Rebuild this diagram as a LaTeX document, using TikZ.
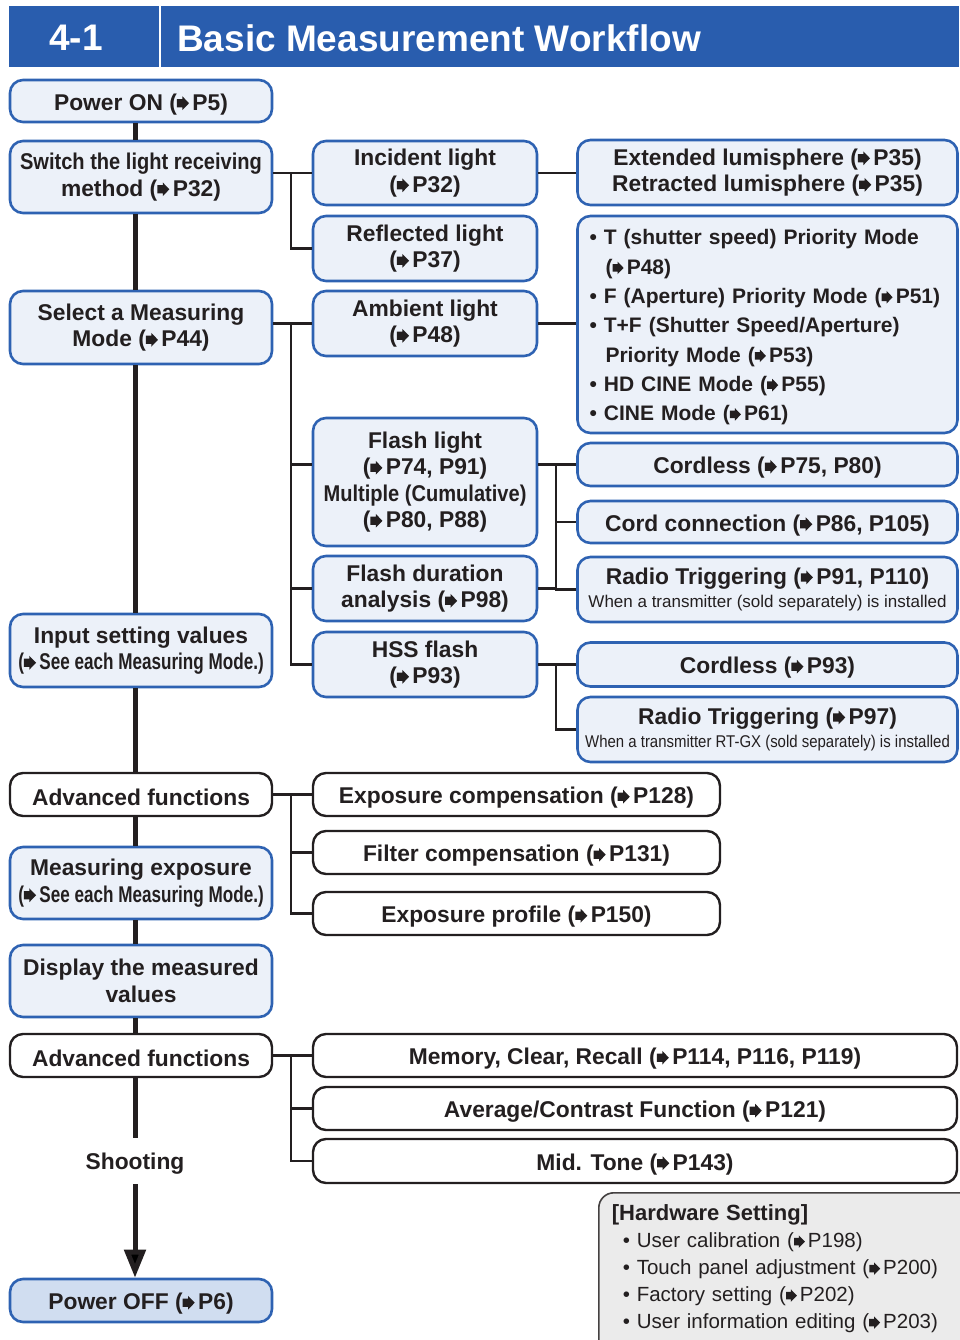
\documentclass[tikz,border=0pt]{standalone}
\usepackage{fontspec}
\setmainfont{Liberation Sans}
\newfontfamily\cond[FakeStretch=0.75]{Liberation Sans}
\newfontfamily\semicond[FakeStretch=0.88]{Liberation Sans}
\usepackage{xcolor}
\usepackage{tikz}
\usetikzlibrary{arrows.meta,positioning}
\definecolor{wfblue}{RGB}{41,93,174}
\definecolor{wfline}{RGB}{46,98,178}
\definecolor{wffill}{RGB}{236,241,249}
\definecolor{wfoff}{RGB}{208,221,240}
\definecolor{wftext}{RGB}{35,31,32}
\definecolor{wfgrey}{RGB}{235,235,235}
\newcommand{\wffont}{\fontsize{22.8}{26.5}\selectfont\bfseries}
\newcommand{\wfsmall}{\fontsize{17}{20}\selectfont\mdseries}
% page reference arrow
\newcommand{\pgarr}{\tikz[baseline=0pt,x=1em,y=1em,sharp corners,line width=0pt]\fill[wftext] (0,0.12)--(0.24,0.12)--(0.24,0)--(0.53,0.3)--(0.24,0.6)--(0.24,0.48)--(0,0.48)--cycle;\hspace{0.15em}}
\tikzset{
  wfstep/.style={
    rectangle, rounded corners=13pt, draw=wfline, fill=wffill, line width=2.6pt,
    minimum width=262pt, inner sep=2pt, align=center, font=\wffont, text=wftext,
    execute at begin node={\rule{0pt}{1em}}
  },
  wfmid/.style={wfstep,minimum width=224pt},
  wfside/.style={wfstep,minimum width=380pt},
  wfplain/.style={wfstep,draw=wftext,fill=white,line width=2.4pt},
  wfend/.style={wfstep,fill=wfoff},
  wfhw/.style={
    rectangle, rounded corners=15pt, draw=wftext!85, fill=wfgrey, line width=1.6pt,
    text width=380pt, inner xsep=13pt, inner ysep=12pt, align=left,
    font=\fontsize{20.5}{27}\selectfont, text=wftext
  },
  wfspine/.style={line width=5pt,draw=wftext},
  wfbranch/.style={line width=2.4pt,draw=wftext},
  wfstage/.style={font=\wffont,text=wftext,minimum height=46pt,inner sep=0pt,execute at begin node={\rule{0pt}{1em}}},
  wftitle/.style={font=\fontsize{37}{40}\selectfont\bfseries,text=white,inner sep=0pt}
}
\begin{document}
\begin{tikzpicture}[x=1pt,y=-1pt]
  \useasboundingbox (0,0) rectangle (959,1340);
  % heading
  \node[fill=wfblue,anchor=north west,minimum width=950pt,minimum height=61pt,inner sep=0pt] (titlebar) at (9,6) {};
  \draw[white,line width=2.5pt] (160,6) -- (160,67);
  \node[wftitle] (secno) at (76,38) {4-1};
  \node[wftitle,anchor=west] (title) at (177,38) {Basic Measurement Workflow};
  \coordinate (spinex) at (135,0);
  \coordinate (busA) at (291,0);
  \coordinate (busB) at (556,0);
  % main steps
  \node[wfstep,minimum height=42pt] (poweron) at (141,101) {Power ON (\pgarr P5)};
  \node[wfstep,minimum height=72pt] (switch) at (141,177) {\semicond Switch the light receiving\\method (\pgarr P32)};
  \node[wfstep,minimum height=73pt] (selmode) at (141,327.5) {Select a Measuring\\Mode (\pgarr P44)};
  \node[wfstep,minimum height=73pt] (input) at (141,650.5) {Input setting values\\{\cond(\pgarr See each Measuring Mode.)}};
  \node[wfplain,minimum height=43pt] (advA) at (141,794.5) {Advanced functions};
  \node[wfstep,minimum height=72pt] (measure) at (141,883) {Measuring exposure\\{\cond(\pgarr See each Measuring Mode.)}};
  \node[wfstep,minimum height=72pt] (display) at (141,981) {Display the measured\\values};
  \node[wfplain,minimum height=43pt] (advB) at (141,1055.5) {Advanced functions};
  \node[wfstage] (shooting) at (135,1161) {Shooting};
  \node[wfend,minimum height=43pt] (poweroff) at (141,1300.5) {Power OFF (\pgarr P6)};
  % light receiving method
  \node[wfmid,minimum height=64pt] (incident) at (425,173) {Incident light\\(\pgarr P32)};
  \node[wfmid,minimum height=65pt] (reflected) at (425,248.5) {Reflected light\\(\pgarr P37)};
  \node[wfside,minimum height=65pt] (lumi) at (767.5,172.5) {Extended lumisphere (\pgarr P35)\\Retracted lumisphere (\pgarr P35)};
  % measuring modes
  \node[wfmid,minimum height=65pt] (ambient) at (425,323.5) {Ambient light\\(\pgarr P48)};
  \node[wfmid,minimum height=128pt] (flash) at (425,482) {Flash light\\(\pgarr P74, P91)\\{\semicond Multiple (Cumulative)}\\(\pgarr P80, P88)};
  \node[wfmid,minimum height=65pt] (fdur) at (425,588.5) {Flash duration\\analysis (\pgarr P98)};
  \node[wfmid,minimum height=65pt] (hss) at (425,664.5) {HSS flash\\(\pgarr P93)};
  \node[wfside,minimum height=217pt,align=left,text width=356pt,font=\fontsize{21}{29.3}\selectfont\bfseries] (modes) at (767.5,324.5)
    {• T (shutter speed) Priority Mode\\\hspace*{16pt}(\pgarr P48)\\• F (Aperture) Priority Mode (\pgarr P51)\\• T+F (Shutter Speed/Aperture)\\\hspace*{16pt}Priority Mode (\pgarr P53)\\• HD CINE Mode (\pgarr P55)\\• CINE Mode (\pgarr P61)};
  \node[wfside,minimum height=43pt] (cordA) at (767.5,464.5) {Cordless (\pgarr P75, P80)};
  \node[wfside,minimum height=42pt] (cordB) at (767.5,522) {Cord connection (\pgarr P86, P105)};
  \node[wfside,minimum height=65pt] (radioA) at (767.5,589.5) {Radio Triggering (\pgarr P91, P110)\\[-3pt]{\wfsmall When a transmitter (sold separately) is installed}};
  \node[wfside,minimum height=44pt] (cordC) at (767.5,664.5) {Cordless (\pgarr P93)};
  \node[wfside,minimum height=65pt] (radioB) at (767.5,729.5) {Radio Triggering (\pgarr P97)\\[-3pt]{\wfsmall\semicond When a transmitter RT-GX (sold separately) is installed}};
  % advanced functions
  \node[wfplain,minimum width=407pt,minimum height=43pt] (expcomp) at (516.5,794.5) {Exposure compensation (\pgarr P128)};
  \node[wfplain,minimum width=407pt,minimum height=43pt] (filter) at (516.5,852.5) {Filter compensation (\pgarr P131)};
  \node[wfplain,minimum width=407pt,minimum height=43pt] (profile) at (516.5,913.5) {Exposure profile (\pgarr P150)};
  \node[wfplain,minimum width=644pt,minimum height=43pt] (memory) at (635,1055.5) {Memory, Clear, Recall (\pgarr P114, P116, P119)};
  \node[wfplain,minimum width=644pt,minimum height=43pt] (average) at (635,1108.5) {Average/Contrast Function (\pgarr P121)};
  \node[wfplain,minimum width=644pt,minimum height=44pt] (midtone) at (635,1161) {Mid. Tone (\pgarr P143)};
  \node[wfhw,anchor=north west] (hardware) at (598,1192)
    {{\fontsize{22}{27}\selectfont\bfseries [Hardware Setting]}\\
     \hspace*{11pt}• User calibration (\pgarr P198)\\
     \hspace*{11pt}• Touch panel adjustment (\pgarr P200)\\
     \hspace*{11pt}• Factory setting (\pgarr P202)\\
     \hspace*{11pt}• User information editing (\pgarr P203)\\[12pt]\mbox{}};
  % spine
  \foreach \a/\b in {poweron/switch,switch/selmode,selmode/input,input/advA,advA/measure,measure/display,display/advB}
    \draw[wfspine] (spinex |- \a.south) -- (spinex |- \b.north);
  \draw[wfspine] (spinex |- advB.south) -- (shooting.north);
  \draw[wfspine,-{Triangle[width=21pt,length=28pt]}] (shooting.south) -- (spinex |- poweroff.north);
  % branches
  \draw[wfbranch] (switch.east |- incident.west) -- (incident.west);
  \draw[wfbranch] (busA |- incident.west) |- (reflected.west);
  \draw[wfbranch] (incident.east) -- (incident.east -| lumi.west);
  \draw[wfbranch] (selmode.east |- ambient.west) -- (ambient.west);
  \draw[wfbranch] (busA |- ambient.west) |- (hss.west);
  \draw[wfbranch] (busA |- cordA.west) -- (flash.west |- cordA.west);
  \draw[wfbranch] (busA |- fdur.west) -- (fdur.west);
  \draw[wfbranch] (ambient.east) -- (ambient.east -| modes.west);
  \draw[wfbranch] (flash.east |- cordA.west) -- (cordA.west);
  \draw[wfbranch] (busB |- cordA.west) |- (radioA.west);
  \draw[wfbranch] (busB |- cordB.west) -- (cordB.west);
  \draw[wfbranch] (fdur.east) -- (busB |- fdur.east);
  \draw[wfbranch] (hss.east) -- (hss.east -| cordC.west);
  \draw[wfbranch] (busB |- cordC.west) |- (radioB.west);
  \draw[wfbranch] (advA.east) -- (expcomp.west);
  \draw[wfbranch] (busA |- expcomp.west) |- (profile.west);
  \draw[wfbranch] (busA |- filter.west) -- (filter.west);
  \draw[wfbranch] (advB.east) -- (memory.west);
  \draw[wfbranch] (busA |- memory.west) |- (midtone.west);
  \draw[wfbranch] (busA |- average.west) -- (average.west);
\end{tikzpicture}
\end{document}
